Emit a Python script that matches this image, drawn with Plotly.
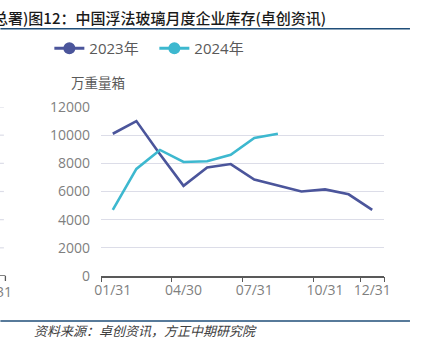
import plotly.graph_objects as go

# ---- data ----
months = ["01/31", "02/28", "03/31", "04/30", "05/31", "06/30",
          "07/31", "08/31", "09/30", "10/31", "11/30", "12/31"]
shown_ticks = ["01/31", "04/30", "07/31", "10/31", "12/31"]
v2023 = [10100, 11000, 8650, 6400, 7700, 7950, 6850, 6400, 6000, 6150, 5800, 4700]
v2024 = [4700, 7600, 8950, 8100, 8150, 8600, 9800, 10100]
series_names = ["2023年", "2024年"]
y_ticks = [0, 2000, 4000, 6000, 8000, 10000, 12000]
y_ticktext = ["0", "2000", "4000", "6000", "8000", "10000", "12000"]
unit_label = "万重量箱"
title_text = "总署)图12：中国浮法玻璃月度企业库存(卓创资讯)"
source_text = "资料来源：卓创资讯，方正中期研究院"

# ---- layout geometry (pixels) ----
W, H = 425, 353
L, R, T, B = 100.7, 384.0, 107.3, 276.0
C2023 = "#4B559B"
C2024 = "#3DB8CF"
FONT = "Open Sans, Noto Sans CJK SC, sans-serif"
CJK = "Noto Sans CJK SC, sans-serif"


def px(xp):
    return (xp - L) / (R - L)


def py(yp):
    return (B - yp) / (B - T)


fig = go.Figure()
fig.add_trace(go.Scatter(x=months, y=v2023, mode="lines", showlegend=False,
                         line=dict(color=C2023, width=2.6)))
fig.add_trace(go.Scatter(x=months[:len(v2024)], y=v2024, mode="lines", showlegend=False,
                         line=dict(color=C2024, width=2.6)))
# legend entries
for name, col in zip(series_names, [C2023, C2024]):
    fig.add_trace(go.Scatter(x=[None], y=[None], mode="lines+markers", name=name,
                             line=dict(color=col, width=3),
                             marker=dict(color=col, size=12)))

# boundary ticks
fig.add_trace(go.Scatter(x=[None], y=[None], xaxis="x2", showlegend=False))

fig.update_layout(
    width=W, height=H,
    margin=dict(l=L, r=W - R, t=T, b=H - B, pad=0),
    paper_bgcolor="white", plot_bgcolor="white",
    font=dict(family=FONT, size=14, color="#7F7F7F"),
    showlegend=True,
    legend=dict(orientation="h", x=px(49), xanchor="left", y=py(49), yanchor="middle",
                font=dict(family=FONT, size=15, color="#595959"),
                itemsizing="trace", entrywidth=60, entrywidthmode="pixels",
                bgcolor="rgba(0,0,0,0)", tracegroupgap=0),
    xaxis=dict(type="category", categoryorder="array", categoryarray=months,
               range=[-0.5, len(months) - 0.5],
               tickvals=shown_ticks, ticktext=shown_ticks, ticks="",
               showgrid=False, showline=True, linecolor="#595959", linewidth=1.5,
               tickfont=dict(size=14, color="#7F7F7F"), zeroline=False),
    xaxis2=dict(overlaying="x", type="linear", range=[-0.5, len(months) - 0.5],
                tickvals=[-0.5, 2.5, 5.5, 8.5, 10.5, 11.5], ticks="outside",
                ticklen=5, tickwidth=1.3, tickcolor="#595959",
                showticklabels=False, showgrid=False, showline=False, zeroline=False,
                side="bottom", anchor="y"),
    yaxis=dict(range=[0, 12000], tickvals=y_ticks, ticktext=y_ticktext, showgrid=True,
               gridcolor="#DCDDE8", gridwidth=1.2, zeroline=False, showline=False,
               ticks="", tickfont=dict(size=14, color="#7F7F7F"), ticklabelstandoff=10),
)

# fragment of neighbouring chart at left edge
shapes = []
for v in y_ticks[1:]:
    shapes.append(dict(type="line", xref="paper", yref="y", x0=px(-2), x1=px(3.5), y0=v, y1=v,
                       line=dict(color="#DCDDE8", width=1.2)))
shapes.append(dict(type="line", xref="paper", yref="y", x0=px(-2), x1=px(5), y0=0, y1=0,
                   line=dict(color="#595959", width=1.5)))
shapes.append(dict(type="line", xref="paper", yref="paper", x0=px(5), x1=px(5), y0=py(276), y1=py(281),
                   line=dict(color="#595959", width=1.3)))
# title / source rules
shapes.append(dict(type="line", xref="paper", yref="paper", x0=px(0), x1=px(410), y0=py(29.3), y1=py(29.3),
                   line=dict(color="#1F4E79", width=1.5)))
shapes.append(dict(type="line", xref="paper", yref="paper", x0=px(0), x1=px(410), y0=py(321), y1=py(321),
                   line=dict(color="#1F4E79", width=1.5)))
fig.update_layout(shapes=shapes)

annotations = [
    dict(text=title_text, xref="paper", yref="paper", x=px(-9), y=py(17.5), xanchor="left",
         yanchor="middle", showarrow=False,
         font=dict(family=CJK, size=15, color="#1A1A1A", weight=500)),
    dict(text=unit_label, xref="paper", yref="paper", x=px(98), y=py(82.7), xanchor="center",
         yanchor="middle", showarrow=False, font=dict(family=CJK, size=13.5, color="#595959")),
    dict(text=source_text, xref="paper", yref="paper", x=px(31.5), y=py(330.7), xanchor="left",
         yanchor="middle", showarrow=False,
         font=dict(family=CJK, size=13, color="#404040", style="italic")),
    dict(text="31", xref="paper", yref="paper", x=px(14), y=py(291.5), xanchor="right",
         yanchor="middle", showarrow=False, font=dict(family=FONT, size=14, color="#7F7F7F")),
]
fig.update_layout(annotations=annotations)

fig.write_html("out.html")
